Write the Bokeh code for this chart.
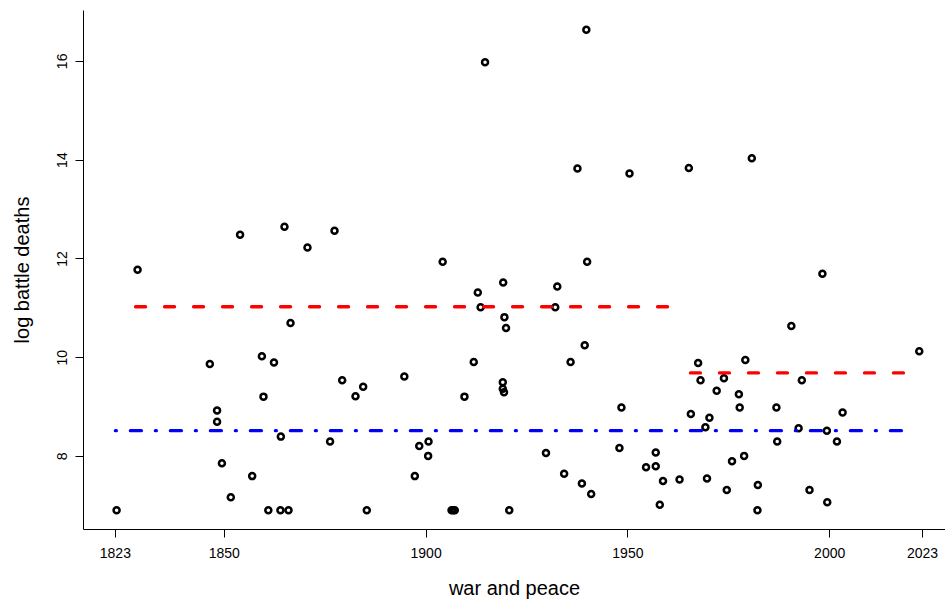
from bokeh.plotting import figure
from bokeh.models import Range1d, FixedTicker, ColumnDataSource
from bokeh.embed import file_html
from bokeh.resources import INLINE

# ---- data ----
years = [1823.3, 1828.5, 1846.4, 1848.2, 1848.2, 1849.4, 1851.6, 1853.9, 1856.9, 1859.3,
         1859.7, 1860.9, 1862.3, 1863.9, 1864.0, 1864.9, 1865.9, 1866.4, 1870.6, 1876.2,
         1877.3, 1879.2, 1882.5, 1884.4, 1885.3, 1894.6, 1897.2, 1898.3, 1900.6, 1900.5,
         1904.1, 1906.3, 1906.7, 1907.1, 1909.5, 1911.8, 1912.8, 1913.5, 1914.6, 1919.0,
         1919.0, 1919.3, 1919.1, 1919.4, 1919.8, 1920.6, 1929.7, 1932.0, 1932.5, 1934.2,
         1935.8, 1937.5, 1938.6, 1939.3, 1939.7, 1939.9, 1940.9, 1947.9, 1948.4, 1950.4,
         1954.5, 1956.9, 1956.9, 1957.9, 1958.7, 1962.8, 1965.1, 1965.6, 1967.4, 1968.0,
         1969.2, 1969.6, 1970.2, 1972.0, 1973.8, 1974.5, 1975.8, 1977.5, 1977.7, 1978.8,
         1979.1, 1980.7, 1982.1, 1982.2, 1986.8, 1987.0, 1990.5, 1992.3, 1993.1, 1995.0,
         1998.2, 1999.3, 1999.4, 2001.8, 2003.2, 2022.2]
log_deaths = [6.91, 11.78, 9.87, 8.93, 8.70, 7.86, 7.17, 12.49, 7.60, 10.03,
              9.21, 6.91, 9.90, 6.91, 8.40, 12.65, 6.91, 10.70, 12.23, 8.30,
              12.57, 9.54, 9.22, 9.41, 6.91, 9.62, 7.60, 8.21, 8.30, 8.01,
              11.94, 6.91, 6.91, 6.91, 9.21, 9.91, 11.32, 11.02, 15.98, 9.50,
              9.37, 9.30, 11.52, 10.82, 10.60, 6.91, 8.07, 11.02, 11.44, 7.65,
              9.91, 13.83, 7.45, 10.25, 16.64, 11.94, 7.24, 8.17, 8.99, 13.73,
              7.78, 8.08, 7.80, 7.02, 7.50, 7.53, 13.84, 8.86, 9.89, 9.54,
              8.59, 7.55, 8.78, 9.33, 9.58, 7.32, 7.90, 9.26, 8.99, 8.01,
              9.95, 14.04, 6.91, 7.42, 8.99, 8.30, 10.64, 8.57, 9.54, 7.32,
              11.70, 8.52, 7.07, 8.30, 8.89, 10.13]

# segment reference lines
red1_x = [1828.0, 1963.0]
red1_y = [11.03, 11.03]
red2_x = [1965.5, 2022.2]
red2_y = [9.69, 9.69]
blue_x = [1823.0, 2021.0]
blue_y = [8.52, 8.52]

x_ticks = [1823, 1850, 1900, 1950, 2000, 2023]
y_ticks = [8, 10, 12, 14, 16]

FONT = "Liberation Sans"

p = figure(width=945, height=601,
           x_range=Range1d(1815.1, 2028.7), y_range=Range1d(6.519, 17.03),
           output_backend="svg", toolbar_location=None,
           min_border_left=83, min_border_right=0, min_border_top=10, min_border_bottom=71)
p.outline_line_color = None
p.xgrid.visible = False
p.ygrid.visible = False
p.background_fill_color = "white"
p.border_fill_color = "white"

src = ColumnDataSource(data=dict(x=years, y=log_deaths))
p.scatter("x", "y", source=src, marker="circle", size=6, fill_color=None,
          line_color="black", line_width=2.5)

p.line(red1_x, red1_y, line_color="red", line_width=3.3, line_dash="10 19", line_cap="round")
p.line(red2_x, red2_y, line_color="red", line_width=3.3, line_dash="10 19", line_cap="round")
p.line(blue_x, blue_y, line_color="blue", line_width=3.3, line_dash="1 14 11 14", line_cap="round")

xa = p.xaxis[0]
xa.ticker = FixedTicker(ticks=x_ticks)
xa.minor_tick_line_color = None
xa.major_tick_in = 0
xa.major_tick_out = 8
xa.major_label_standoff = 10
xa.major_label_text_font = FONT
xa.major_label_text_font_size = "14px"
xa.major_label_text_color = "black"
xa.axis_label = "war and peace"
xa.axis_label_text_font = FONT
xa.axis_label_text_font_size = "20px"
xa.axis_label_text_font_style = "normal"
xa.axis_label_text_color = "black"
xa.axis_label_standoff = 16
xa.axis_line_color = "black"
xa.major_tick_line_color = "black"

ya = p.yaxis[0]
ya.ticker = FixedTicker(ticks=y_ticks)
ya.minor_tick_line_color = None
ya.major_tick_in = 0
ya.major_tick_out = 8
ya.major_label_standoff = 8
ya.major_label_orientation = "vertical"
ya.major_label_text_font = FONT
ya.major_label_text_font_size = "14px"
ya.major_label_text_color = "black"
ya.axis_label = "log battle deaths"
ya.axis_label_text_font = FONT
ya.axis_label_text_font_size = "20px"
ya.axis_label_text_font_style = "normal"
ya.axis_label_text_color = "black"
ya.axis_label_standoff = 22
ya.axis_line_color = "black"
ya.major_tick_line_color = "black"

open("out.html", "w").write(file_html(p, INLINE))
